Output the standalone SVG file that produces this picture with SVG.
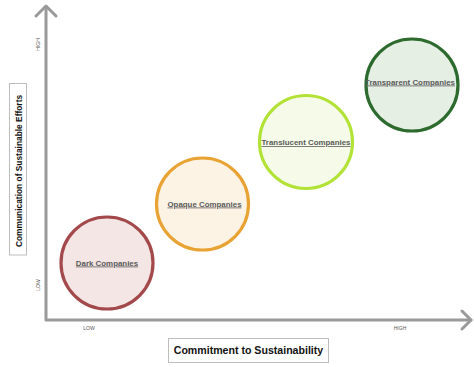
<svg xmlns="http://www.w3.org/2000/svg" width="474" height="367" viewBox="0 0 474 367">
<style>
.axis{fill:none;stroke:#9a9a9a;stroke-width:3;stroke-linecap:round;stroke-linejoin:round}
.tick{font-family:"Liberation Sans",Arial,sans-serif;font-size:5px;fill:#555}
.lbl{font-family:"Liberation Sans",Arial,sans-serif;font-weight:bold;fill:#111}
.box{fill:#fff;stroke:#bdbdbd;stroke-width:1}
.node text{font-family:"Liberation Sans",Arial,sans-serif;font-weight:bold;font-size:7.9px;fill:#5a5a5a;text-anchor:middle;text-decoration:underline}
.node circle{stroke-width:3.2}
</style>
<rect width="474" height="367" fill="#fff"/>
<g id="connectors">
<path class="axis" d="M46,7 V320 H471"/>
<path class="axis" d="M36,16 L46,6 L56,16"/>
<path class="axis" d="M462,311 L471,320 L462,329"/>
</g>
<g id="axis-labels">
<text class="tick" transform="translate(39.5,44.5) rotate(-90)" text-anchor="middle">HIGH</text>
<text class="tick" transform="translate(39.5,285) rotate(-90)" text-anchor="middle">LOW</text>
<text class="tick" x="89" y="330" text-anchor="middle">LOW</text>
<text class="tick" x="400" y="330" text-anchor="middle">HIGH</text>
</g>
<g id="y-label">
<rect class="box" x="9.5" y="83.5" width="17" height="171.5"/>
<text class="lbl" font-size="8.4" transform="translate(21.5,171) rotate(-90)" text-anchor="middle">Communication of Sustainable Efforts</text>
</g>
<g id="x-label">
<rect class="box" x="168.5" y="338.5" width="160" height="24"/>
<text class="lbl" font-size="10.6" x="248.5" y="354" text-anchor="middle">Commitment to Sustainability</text>
</g>
<g id="dark" class="node">
<circle cx="107" cy="263" r="46" fill="#f3e6e4" stroke="#a3484b"/>
<text x="107" y="265.5">Dark Companies</text>
</g>
<g id="opaque" class="node">
<circle cx="202.5" cy="204" r="46" fill="#fdf3e5" stroke="#e9a334"/>
<text x="204.5" y="206.5">Opaque Companies</text>
</g>
<g id="translucent" class="node">
<circle cx="306" cy="142" r="46.5" fill="#f5fbe8" stroke="#b3e236"/>
<text x="306" y="145">Translucent Companies</text>
</g>
<g id="transparent" class="node">
<circle cx="412" cy="85" r="46" fill="#e6efe4" stroke="#2c6a2d"/>
<text x="410" y="84.5">Transparent Companies</text>
</g>
</svg>
